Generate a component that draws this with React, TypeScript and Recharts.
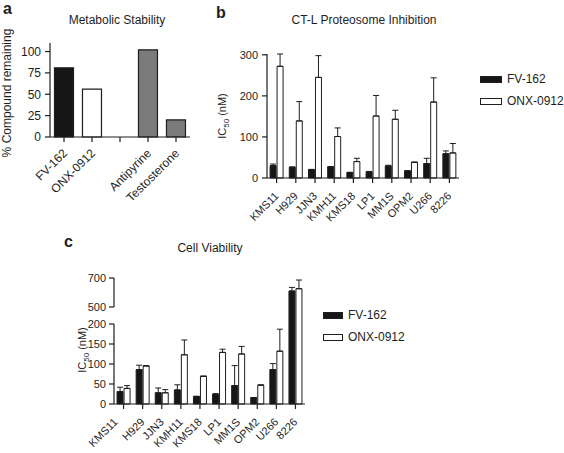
import { BarChart, Bar, XAxis, YAxis, Cell, ErrorBar, Legend } from 'recharts'

const FONT = '"Liberation Sans", Arial, Helvetica, sans-serif'
const INK = '#1e1e1e'

// a: metabolic stability (% compound remaining)
const stabilityCompounds = ['FV-162', 'ONX-0912', '', 'Antipyrine', 'Testosterone']
const stabilityRemaining = [81, 56, null, 102, 20]
const stabilityFills = ['#161616', '#ffffff', '#ffffff', '#7b7b7b', '#7b7b7b']
const stabilityTicks = [0, 25, 50, 75, 100]

// b + c: cell lines, two drugs
const cellLines = ['KMS11', 'H929', 'JJN3', 'KMH11', 'KMS18', 'LP1', 'MM1S', 'OPM2', 'U266', '8226']
const drugNames = ['FV-162', 'ONX-0912']
const drugFills = ['#161616', '#ffffff']

// b: CT-L proteasome inhibition, IC50 (nM)
const ctlFv162 = [30, 26, 20, 27, 13, 15, 29, 17, 35, 59]
const ctlFv162Err = [4, 1, 1, 1, 1, 1, 2, 1, 13, 7]
const ctlOnx = [272, 139, 245, 101, 40, 151, 143, 38, 185, 61]
const ctlOnxErr = [30, 47, 53, 21, 8, 50, 22, 1, 59, 23]
const ctlTicks = [0, 100, 200, 300]

// c: cell viability, IC50 (nM)
const viaFv162 = [31, 86, 28, 35, 19, 24, 46, 16, 86, 610]
const viaFv162Err = [11, 11, 12, 13, 0, 2, 50, 0, 15, 25]
const viaOnx = [39, 95, 28, 123, 69, 129, 125, 47, 132, 626]
const viaOnxErr = [7, 1, 8, 37, 1, 8, 19, 1, 55, 60]
const viaTicks = [0, 50, 100, 150, 200, 500, 700]

const stabilityData = stabilityCompounds.map((name, i) => ({ name, remaining: stabilityRemaining[i] }))
const ctlData = cellLines.map((name, i) => ({
  name,
  fv: ctlFv162[i],
  onx: ctlOnx[i],
  fvErr: [0, ctlFv162Err[i]],
  onxErr: [0, ctlOnxErr[i]],
}))
const viaData = cellLines.map((name, i) => ({
  name,
  fv: viaFv162[i],
  onx: viaOnx[i],
  fvErr: [0, viaFv162Err[i]],
  onxErr: [0, viaOnxErr[i]],
}))

// broken y axis for panel c: 0-200 low, 500-700 above the break
const breakDomain = [0, 200, 500, 700]
const breakFrac = [0, 0.635, 0.77, 1]
const breakState = { range: [1, 0] as number[] }

function mapBroken(v: number, r: number[]) {
  let i = 0
  while (i < breakDomain.length - 2 && v > breakDomain[i + 1]) i++
  const t =
    breakFrac[i] +
    ((v - breakDomain[i]) / (breakDomain[i + 1] - breakDomain[i])) * (breakFrac[i + 1] - breakFrac[i])
  return r[0] + t * (r[1] - r[0])
}

function brokenScale(): any {
  const s: any = (v: number) => mapBroken(v, breakState.range)
  s.domain = (d?: number[]) => (d ? s : [breakDomain[0], breakDomain[breakDomain.length - 1]])
  s.range = (r?: number[]) => {
    if (r) {
      breakState.range = r
      return s
    }
    return breakState.range
  }
  s.copy = () => brokenScale()
  s.ticks = () => viaTicks
  return s
}

// firstShift: the first label of panel c sits a bit left in the original
const SlantTick = ({ x, y, payload, index, fontSize = 11, dx = 0, dy = 9, firstShift = 0 }: any) => {
  const px = x + dx + (index === 0 ? firstShift : 0)
  const py = y + dy
  return (
    <text
      x={px}
      y={py}
      transform={`rotate(-45 ${px} ${py})`}
      textAnchor="end"
      dy="0.35em"
      fontSize={fontSize}
      fontFamily={FONT}
      fill={INK}
    >
      {payload.value}
    </text>
  )
}

const BrokenTick = ({ x, y, payload }: any) => {
  const ax = x + 8
  const v = payload.value
  let seg = null
  if (v === 0) seg = <line x1={ax} x2={ax} y1={y} y2={mapBroken(200, breakState.range)} stroke={INK} strokeWidth={1.2} />
  if (v === 500) seg = <line x1={ax} x2={ax} y1={y} y2={mapBroken(700, breakState.range)} stroke={INK} strokeWidth={1.2} />
  return (
    <g>
      {seg}
      <line x1={ax - 5} x2={ax} y1={y} y2={y} stroke={INK} strokeWidth={1.2} />
      <text x={x} y={y} dy="0.35em" textAnchor="end" fontSize={11} fontFamily={FONT} fill={INK}>
        {v}
      </text>
    </g>
  )
}

const IcLabel = ({ viewBox, cx, shift = 0 }: any) => {
  const cy = viewBox.y + viewBox.height / 2 + shift
  return (
    <text transform={`translate(${cx},${cy}) rotate(-90)`} textAnchor="middle" fontSize={11} fontFamily={FONT} fill={INK}>
      IC
      <tspan fontSize={8} dy={3}>
        50
      </tspan>
      <tspan dy={-3}> (nM)</tspan>
    </text>
  )
}

const PctLabel = ({ viewBox }: any) => {
  const cy = viewBox.y + viewBox.height / 2 + 3
  return (
    <text transform={`translate(11,${cy}) rotate(-90)`} textAnchor="middle" fontSize={12} fontFamily={FONT} fill={INK}>
      % Compound remaining
    </text>
  )
}

const DrugLegend = ({ boxWidth }: { boxWidth: number }) => (
  <div style={{ fontFamily: FONT, fontSize: 12, color: INK }}>
    {drugNames.map((n, i) => (
      <div key={n} style={{ display: 'flex', alignItems: 'center', height: 22 }}>
        <span
          style={{
            display: 'inline-block',
            width: boxWidth,
            height: 5,
            border: `1px solid ${INK}`,
            background: drugFills[i],
            marginRight: 5,
          }}
        />
        {n}
      </div>
    ))}
  </div>
)

const axisStroke = { stroke: INK, strokeWidth: 1.2 }

export default function App() {
  return (
    <div style={{ position: 'absolute', left: 0, top: 0, width: 564, height: 453, background: '#fff' }}>
      <div style={{ position: 'absolute', left: 0, top: 0 }}>
        <BarChart width={200} height={230} data={stabilityData} margin={{ top: 43, right: 10, left: 0, bottom: 0 }} barCategoryGap="16%">
          <XAxis
            dataKey="name"
            height={93}
            interval={0}
            axisLine={axisStroke}
            tickLine={axisStroke}
            tickSize={5}
            tick={<SlantTick fontSize={12} dx={1} dy={7} />}
          />
          <YAxis
            width={50}
            domain={[0, 110]}
            ticks={stabilityTicks}
            interval={0}
            axisLine={axisStroke}
            tickLine={axisStroke}
            tickSize={5}
            tickMargin={4}
            tick={{ fontSize: 12, fill: INK, fontFamily: FONT }}
            label={<PctLabel />}
          />
          <Bar dataKey="remaining" stroke={INK} strokeWidth={1.2} isAnimationActive={false}>
            {stabilityData.map((d, i) => (
              <Cell key={i} fill={stabilityFills[i]} />
            ))}
          </Bar>
        </BarChart>
      </div>

      <div style={{ position: 'absolute', left: 190, top: 0 }}>
        <BarChart width={374} height={230} data={ctlData} margin={{ top: 54, right: 105, left: 0, bottom: 0 }} barCategoryGap="16%" barGap={1}>
          <XAxis
            dataKey="name"
            height={52}
            interval={0}
            axisLine={axisStroke}
            tickLine={axisStroke}
            tickSize={5}
            tick={<SlantTick />}
          />
          <YAxis
            width={77}
            domain={[0, 300]}
            ticks={ctlTicks}
            interval={0}
            axisLine={axisStroke}
            tickLine={axisStroke}
            tickSize={5}
            tickMargin={4}
            tick={{ fontSize: 11, fill: INK, fontFamily: FONT }}
            label={<IcLabel cx={36} />}
          />
          <Legend
            layout="horizontal"
            verticalAlign="middle"
            align="center"
            wrapperStyle={{ position: 'absolute', left: 290, top: 68, width: 'auto' }}
            content={() => <DrugLegend boxWidth={20} />}
          />
          <Bar dataKey="fv" name="FV-162" fill={drugFills[0]} stroke={INK} strokeWidth={1} isAnimationActive={false}>
            <ErrorBar dataKey="fvErr" width={3} stroke={INK} strokeWidth={1} direction="y" />
          </Bar>
          <Bar dataKey="onx" name="ONX-0912" fill={drugFills[1]} stroke={INK} strokeWidth={1} isAnimationActive={false}>
            <ErrorBar dataKey="onxErr" width={3} stroke={INK} strokeWidth={1} direction="y" />
          </Bar>
        </BarChart>
      </div>

      <div style={{ position: 'absolute', left: 0, top: 230 }}>
        <BarChart width={564} height={223} data={viaData} margin={{ top: 48, right: 259, left: 0, bottom: 0 }} barCategoryGap="16%" barGap={1}>
          <XAxis
            dataKey="name"
            height={49}
            interval={0}
            axisLine={axisStroke}
            tickLine={axisStroke}
            tickSize={5}
            tick={<SlantTick firstShift={-8} />}
          />
          <YAxis
            type="number"
            width={114}
            domain={[0, 700]}
            scale={brokenScale()}
            ticks={viaTicks}
            interval={0}
            axisLine={false}
            tickLine={false}
            tickSize={5}
            tickMargin={3}
            tick={<BrokenTick />}
            label={<IcLabel cx={86} shift={9} />}
          />
          <Legend
            layout="horizontal"
            verticalAlign="middle"
            align="center"
            wrapperStyle={{ position: 'absolute', left: 323, top: 74, width: 'auto' }}
            content={() => <DrugLegend boxWidth={18} />}
          />
          <Bar dataKey="fv" name="FV-162" fill={drugFills[0]} stroke={INK} strokeWidth={1} isAnimationActive={false}>
            <ErrorBar dataKey="fvErr" width={3} stroke={INK} strokeWidth={1} direction="y" />
          </Bar>
          <Bar dataKey="onx" name="ONX-0912" fill={drugFills[1]} stroke={INK} strokeWidth={1} isAnimationActive={false}>
            <ErrorBar dataKey="onxErr" width={3} stroke={INK} strokeWidth={1} direction="y" />
          </Bar>
        </BarChart>
      </div>

      <svg width={564} height={453} style={{ position: 'absolute', left: 0, top: 0, pointerEvents: 'none' }}>
        <g fontFamily={FONT} fill={INK}>
          <text x={3} y={14} fontSize={16} fontWeight="bold">a</text>
          <text x={216} y={18} fontSize={16} fontWeight="bold">b</text>
          <text x={64} y={247} fontSize={16} fontWeight="bold">c</text>
          <text x={117} y={24} fontSize={12} textAnchor="middle">Metabolic Stability</text>
          <text x={364} y={24} fontSize={12} textAnchor="middle">CT-L Proteosome Inhibition</text>
          <text x={210} y={252} fontSize={12} textAnchor="middle">Cell Viability</text>
        </g>
      </svg>
    </div>
  )
}
